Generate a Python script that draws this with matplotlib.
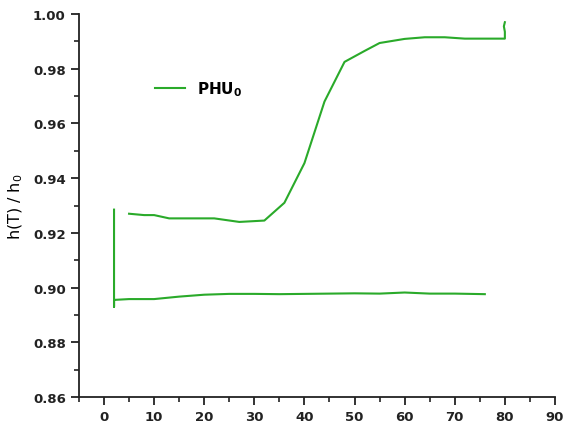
import matplotlib.pyplot as plt
from matplotlib.ticker import MultipleLocator

# Ciclo de histéresis h(T)/h0
# rama inferior (incluye el tramo vertical inicial en T=2)
t_low = [2, 2, 2, 5, 10, 15, 20, 25, 30, 35, 40, 45, 50, 55, 60, 65, 70, 76]
h_low = [0.9285, 0.893, 0.8955, 0.8958, 0.8958, 0.8967, 0.8974, 0.8977, 0.8977,
         0.8976, 0.8977, 0.8978, 0.8979, 0.8978, 0.8982, 0.8978, 0.8978, 0.8976]

# rama superior (incluye el tramo vertical final en T=80)
t_up = [5, 8, 10, 13, 22, 27, 32, 36, 40, 44, 48, 52, 55, 60, 64, 68, 72, 80, 80, 79.8, 80]
h_up = [0.927, 0.9265, 0.9265, 0.9253, 0.9253, 0.924, 0.9245, 0.931, 0.9455,
        0.968, 0.9825, 0.9865, 0.9894, 0.9909, 0.9915, 0.9915, 0.991, 0.991,
        0.9935, 0.9955, 0.997]

color = "#2aaa2a"

fig = plt.figure(figsize=(5.64, 4.35), dpi=100)
ax = fig.add_axes([0.140, 0.085, 0.844, 0.8805])

ax.plot(t_low, h_low, color=color, lw=1.5, label="PHU$_\\mathbf{0}$")
ax.plot(t_up, h_up, color=color, lw=1.5)

ax.set_xlim(-5, 90)
ax.set_ylim(0.86, 1.00)
ax.xaxis.set_major_locator(MultipleLocator(10))
ax.xaxis.set_minor_locator(MultipleLocator(5))
ax.yaxis.set_major_locator(MultipleLocator(0.02))
ax.yaxis.set_minor_locator(MultipleLocator(0.01))
ax.yaxis.set_major_formatter(plt.FormatStrFormatter("%.2f"))

for s in ["top", "right"]:
    ax.spines[s].set_visible(False)
for s in ["left", "bottom"]:
    ax.spines[s].set_linewidth(1.3)
    ax.spines[s].set_color("#222222")

ax.tick_params(which="major", direction="out", length=6, width=1.3,
               labelsize=9.5, colors="#222222")
ax.tick_params(which="minor", direction="out", length=3.5, width=1.2,
               colors="#222222")
for lbl in ax.get_xticklabels() + ax.get_yticklabels():
    lbl.set_fontweight("bold")

ax.set_ylabel("h(T) / h$_0$", fontsize=11.5, labelpad=6)

leg = ax.legend(loc="center left", bbox_to_anchor=(0.130, 0.804), frameon=False,
                prop={"weight": "bold", "size": 11})

plt.savefig("out.png", dpi=100)
